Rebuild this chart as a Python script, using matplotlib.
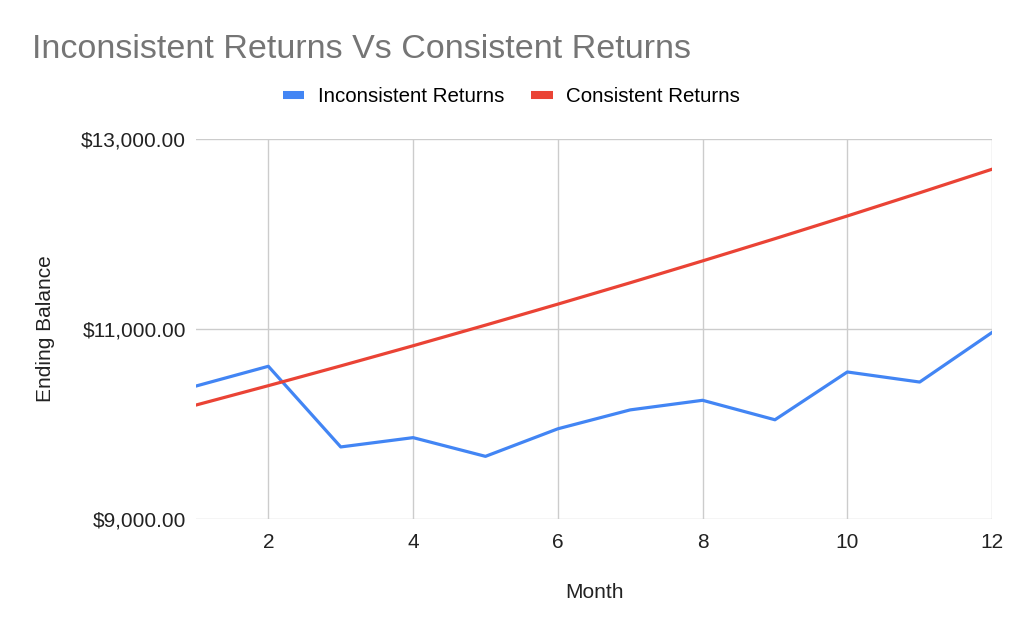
"""Inconsistent vs consistent returns: ending balance by month."""

import matplotlib
matplotlib.use("Agg")
import matplotlib.pyplot as plt
from matplotlib.lines import Line2D
from matplotlib.ticker import FuncFormatter

months = [1, 2, 3, 4, 5, 6, 7, 8, 9, 10, 11, 12]
inconsistent = [10400, 10608, 9759, 9857, 9660, 9950,
                10149, 10250, 10045, 10548, 10442, 10964]
consistent = [10200, 10404, 10612, 10824, 11041, 11262,
              11487, 11717, 11951, 12190, 12434, 12682]
y_ticks = [9000, 11000, 13000]
x_ticks = [2, 4, 6, 8, 10, 12]

BLUE = "#4285f4"
RED = "#ea4335"

plt.rcParams["font.family"] = ["Liberation Sans", "DejaVu Sans"]

fig = plt.figure(figsize=(10.24, 6.33), dpi=100)
ax = fig.add_axes([0.1914, 0.18, 0.9688 - 0.1914, 0.7804 - 0.18])

ax.plot(months, inconsistent, color=BLUE, lw=2.3)
ax.plot(months, consistent, color=RED, lw=2.3)

ax.set_xlim(1, 12)
ax.set_ylim(9000, 13000)
ax.set_xticks(x_ticks)
ax.set_yticks(y_ticks)
ax.yaxis.set_major_formatter(FuncFormatter(lambda v, p: f"${v:,.2f}"))
ax.grid(True, color="#cccccc", lw=1)
ax.set_axisbelow(True)
for s in ax.spines.values():
    s.set_visible(False)
ax.tick_params(length=0, labelsize=15, colors="#222222")
ax.tick_params(axis="x", pad=10)
ax.tick_params(axis="y", pad=7)

ax.set_xlabel("Month", fontsize=15, color="#222222", labelpad=22)
ax.set_ylabel("Ending Balance", fontsize=15, color="#222222", labelpad=19)

fig.text(0.031, 0.922, "Inconsistent Returns Vs Consistent Returns",
         fontsize=24.5, color="#757575", va="center", ha="left")

handles = [Line2D([], [], color=BLUE, lw=5.8, solid_capstyle="butt"),
           Line2D([], [], color=RED, lw=5.8, solid_capstyle="butt")]
fig.legend(handles, ["Inconsistent Returns", "Consistent Returns"],
           loc="center", bbox_to_anchor=(0.4995, 0.847), ncol=2, frameon=False,
           fontsize=14.8, handlelength=1.05, handletextpad=0.67, columnspacing=1.3,
           borderpad=0, borderaxespad=0)

fig.savefig("out.png", dpi=100)
